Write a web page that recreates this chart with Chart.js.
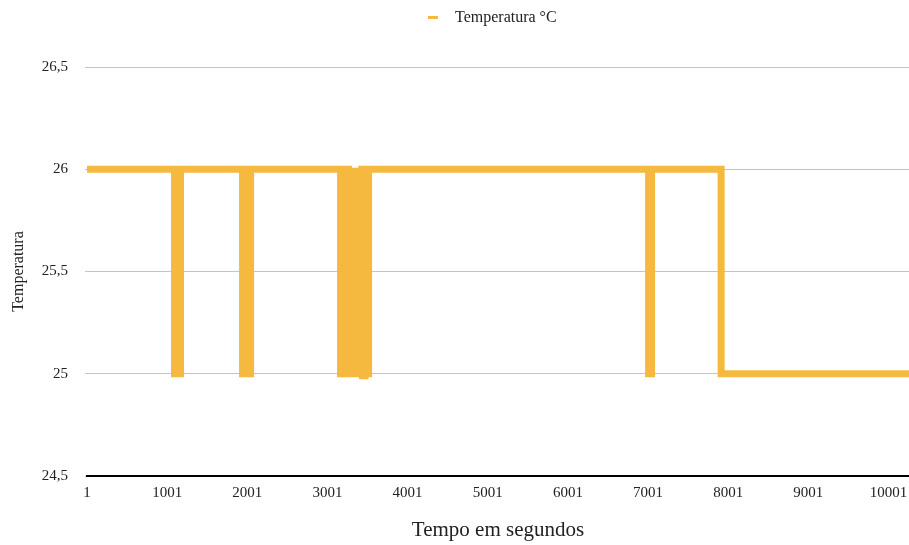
<!DOCTYPE html>
<html>
<head>
<meta charset="utf-8">
<script src="https://cdn.jsdelivr.net/npm/chart.js@4/dist/chart.umd.min.js"></script>
<style>
  html, body { margin: 0; padding: 0; background: #fff; }
  #wrap { position: relative; width: 909px; height: 545px; }
  #legend { position: absolute; left: 428px; top: 8px; height: 18px; display: flex; align-items: center;
            font-family: "Liberation Serif", "DejaVu Serif", serif; font-size: 16px; color: #222; }
  #legend .mk { width: 10px; height: 3px; background: #F4B93E; margin-right: 17px; }
</style>
</head>
<body>
<div id="wrap">
  <canvas id="c" width="909" height="545"></canvas>
  <div id="legend"><span class="mk"></span><span>Temperatura °C</span></div>
</div>
<script>
// Series: change points (time in seconds -> temperature from that time on)
const seriesName = "Temperatura °C";
const tempos = [1, 1093, 1168, 1942, 1978, 2008, 2042,
  3165, 3190, 3215, 3240, 3265, 3290, 3315, 3340, 3365, 3390, 3410, 3430, 3440, 3470, 3490, 3514,
  7008, 7045, 7913, 10257];
const temperaturas = [26, 25, 26, 25, 26, 25, 26,
  25, 26, 25, 26, 25, 25.99, 25, 25.99, 25, 25.99, 25, 26, 24.99, 26, 25, 26,
  25, 26, 25, 25];
const xTickLabels = [1, 1001, 2001, 3001, 4001, 5001, 6001, 7001, 8001, 9001, 10001];
const yTickValues = [24.5, 25, 25.5, 26, 26.5];

const serif = "'Liberation Serif', 'Times New Roman', serif";
const yellow = '#F4B93E';

new Chart(document.getElementById('c'), {
  type: 'line',
  data: {
    datasets: [{
      label: seriesName,
      data: tempos.map((t, i) => ({ x: t, y: temperaturas[i] })),
      borderColor: yellow,
      backgroundColor: yellow,
      borderWidth: 7,
      stepped: true,
      pointRadius: 0,
      borderJoinStyle: 'miter',
      borderCapStyle: 'butt',
      fill: false
    }]
  },
  options: {
    responsive: false,
    animation: false,
    layout: { padding: { top: 67, right: 0, left: 0, bottom: 0 } },
    plugins: { legend: { display: false }, tooltip: { enabled: false } },
    scales: {
      x: {
        type: 'linear',
        min: 1,
        max: 10257,
        afterBuildTicks: s => { s.ticks = xTickLabels.map(v => ({ value: v })); },
        afterFit: s => { s.height = 69; s.paddingRight = 0; s.paddingLeft = 0; },
        grid: { display: false, drawTicks: false },
        border: { display: true, color: '#000', width: 2 },
        ticks: { autoSkip: false, maxRotation: 0, padding: 8, color: '#222',
                 font: { family: serif, size: 15 }, callback: v => String(v) },
        title: { display: true, text: 'Tempo em segundos', color: '#222',
                 font: { family: serif, size: 21 }, padding: { top: 4, bottom: 2 } }
      },
      y: {
        min: 24.5,
        max: 26.5,
        afterBuildTicks: s => { s.ticks = yTickValues.map(v => ({ value: v })); },
        afterFit: s => { s.width = 87; },
        grid: { color: '#c4c4c4', lineWidth: 1, tickLength: 2, drawTicks: true },
        border: { display: false },
        ticks: { padding: 17, color: '#222', font: { family: serif, size: 15 },
                 callback: v => String(v).replace('.', ',') },
        title: { display: true, text: 'Temperatura', color: '#222',
                 font: { family: serif, size: 16 }, padding: { top: 9, bottom: 4 } }
      }
    }
  }
});
</script>
</body>
</html>
